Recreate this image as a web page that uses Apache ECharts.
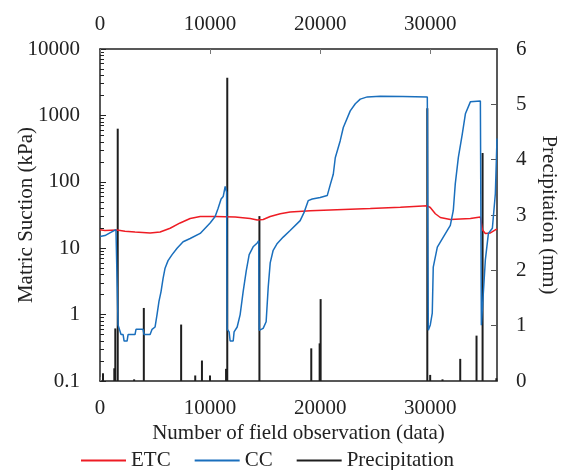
<!DOCTYPE html>
<html>
<head>
<meta charset="utf-8">
<script src="https://cdn.jsdelivr.net/npm/echarts@6/dist/echarts.min.js"></script>
<style>
  html, body { margin: 0; padding: 0; background: #fff; }
  #chart { width: 561px; height: 470px; }
</style>
</head>
<body>
<div id="chart"></div>
<script>
// observation index / matric suction (kPa)
var ccIdx = [0, 450, 900, 1450, 1590, 1640, 1820, 1910, 2100, 2190, 2460, 2550, 3180, 3270, 3910, 4000,
  4550, 4730, 5000, 5180, 5360, 5540, 5730, 5910, 6180, 6550, 7000, 7550, 8190, 9100, 9550, 10000,
  10460, 10730, 11000, 11190, 11370, 11500, 11550, 11730, 11820, 12100, 12180, 12460, 12730, 13000,
  13280, 13550, 13910, 14280, 14420, 14460, 14820, 15090, 15280, 15460, 15730, 16100, 16640, 17270,
  18180, 18550, 18910, 19280, 20000, 20640, 20910, 21190, 21370, 21820, 22100, 22730, 23190, 23640,
  24280, 25460, 27500, 29730, 29820, 30000, 30180, 30270, 30640, 31180, 31820, 32090, 32270, 32550,
  32910, 33190, 33640, 34550, 34640, 34820, 35000, 35280, 35640, 35910, 36060];
var ccVal = [15, 15.5, 17, 19, 19.5, 0.7, 0.68, 0.5, 0.5, 0.4, 0.4, 0.5, 0.5, 0.6, 0.6, 0.5,
  0.5, 0.6, 0.65, 1.0, 1.6, 2.2, 3.5, 5, 6.5, 8, 10, 12.5, 14, 16.7, 20, 24,
  30, 40, 55, 60, 85, 70, 0.6, 0.55, 0.4, 0.4, 0.55, 0.65, 1.0, 2.2,
  4.5, 8, 10.5, 12, 13, 0.58, 0.62, 0.78, 2.6, 6, 9.3, 11.8, 14.7, 18.5,
  26, 35, 52, 55, 58, 62, 90, 130, 230, 416, 657, 1170, 1500, 1760,
  1900, 1950, 1930, 1900, 0.58, 0.7, 1.05, 5.2, 10.4, 14.7, 22, 37, 93, 233,
  526, 1057, 1600, 1650, 0.69, 0.69, 6.6, 16.7, 20, 66, 450];

var etcIdx = [0, 450, 1540, 2270, 3180, 4550, 5460, 6370, 7280, 8190, 9100, 10460, 12280, 13640,
  14280, 14820, 15460, 16370, 17270, 19100, 20910, 24550, 27280, 29730, 30000, 30460, 30910,
  31820, 33640, 34550, 34730, 35000, 35460, 36060];
var etcVal = [19, 18.5, 18.8, 18, 17.5, 17, 17.5, 20, 24, 28, 30, 30, 29.5, 28,
  26.5, 27, 30, 33, 35, 36.5, 37.5, 39.5, 41.5, 43.5, 41, 33, 29,
  27, 28, 29.5, 19, 16.7, 17, 19.5];

// precipitation (mm)
var rainIdx = [270, 1300, 1390, 1610, 3100, 3980, 7370, 8650, 9260, 9990, 11450, 11560, 14480,
  19190, 19950, 20040, 29730, 29990, 31110, 32720, 34200, 34750, 36000];
var rainVal = [0.14, 0.23, 0.95, 4.56, 0.03, 1.32, 1.02, 0.1, 0.37, 0.1, 0.22, 5.48, 2.98,
  0.59, 0.68, 1.48, 4.93, 0.11, 0.03, 0.4, 0.82, 4.12, 0.05];

var logLabels = [0.1, 1, 10, 100, 1000, 10000];
var minorTicks = [];
logLabels.slice(0, 5).forEach(function (d, i) {
  for (var k = 2; k <= 9; k++) minorTicks.push(Math.log10(k) + i - 1);
});

function zip(a, b) {
  return a.map(function (v, i) { return [v, b[i]]; });
}

var FONT = 'Liberation Serif';
var INK = '#222';
var chart = echarts.init(document.getElementById('chart'), null, { renderer: 'canvas' });

var plain = function (v) { return String(v); };

var options = {
  backgroundColor: '#fff',
  animation: false,
  textStyle: { fontFamily: FONT },
  grid: { left: 100, right: 64, top: 49, bottom: 89, containLabel: false, outerBoundsMode: 'none' },
  legend: {
    data: ['ETC', 'CC', 'Precipitation'],
    left: 76,
    top: 445,
    icon: 'rect',
    itemWidth: 45,
    itemHeight: 2,
    itemGap: 24,
    textStyle: { fontFamily: FONT, fontSize: 21, color: INK }
  },
  xAxis: [{
    type: 'value',
    position: 'bottom',
    min: 0,
    max: 36060,
    interval: 10000,
    name: 'Number of field observation (data)',
    nameLocation: 'middle',
    nameGap: 42,
    nameMoveOverlap: false,
    nameTextStyle: { fontFamily: FONT, fontSize: 21, color: INK },
    axisLine: { onZero: false, lineStyle: { color: INK, width: 1.5 } },
    axisTick: { inside: true, length: 4, lineStyle: { color: '#777' } },
    axisLabel: { fontFamily: FONT, fontSize: 21, color: INK, margin: 17, showMaxLabel: false, formatter: plain },
    splitLine: { show: false }
  }, {
    type: 'value',
    position: 'top',
    min: 0,
    max: 36060,
    interval: 10000,
    axisLine: { onZero: false, lineStyle: { color: INK, width: 1.5 } },
    axisTick: { inside: true, length: 5, lineStyle: { color: '#777' } },
    axisLabel: { fontFamily: FONT, fontSize: 21, color: INK, margin: 14, showMaxLabel: false, formatter: plain },
    splitLine: { show: false }
  }],
  yAxis: [{
    type: 'log',
    logBase: 10,
    min: 0.1,
    max: 10000,
    position: 'left',
    name: 'Matric Suction (kPa)',
    nameLocation: 'middle',
    nameGap: 63,
    nameMoveOverlap: false,
    nameTextStyle: { fontFamily: FONT, fontSize: 21, color: INK },
    axisLine: { onZero: false, lineStyle: { color: INK, width: 1.5 } },
    axisTick: { inside: true, length: 6, lineStyle: { color: INK } },
    axisLabel: { fontFamily: FONT, fontSize: 21, color: INK, margin: 20, formatter: plain },
    splitLine: { show: false }
  }, {
    type: 'value',
    position: 'right',
    min: 0,
    max: 6,
    interval: 1,
    name: 'Precipitation (mm)',
    nameLocation: 'middle',
    nameRotate: -90,
    nameGap: 41,
    nameMoveOverlap: false,
    nameTextStyle: { fontFamily: FONT, fontSize: 21, color: INK },
    axisLine: { onZero: false, lineStyle: { color: INK, width: 1.5 } },
    axisTick: { inside: true, length: 6, lineStyle: { color: '#555' } },
    axisLabel: { fontFamily: FONT, fontSize: 21, color: INK, margin: 19 },
    splitLine: { show: false }
  }, {
    // minor ticks of the log axis (2..9 of each decade)
    type: 'value',
    position: 'left',
    min: -1,
    max: 4,
    axisLine: { show: false, onZero: false },
    axisLabel: { show: false },
    axisTick: { inside: true, length: 4, customValues: minorTicks, lineStyle: { color: INK } },
    splitLine: { show: false }
  }],
  series: [{
    name: 'ETC',
    type: 'line',
    xAxisIndex: 0,
    yAxisIndex: 0,
    symbol: 'none',
    color: '#ee1c24',
    lineStyle: { width: 1.5 },
    data: zip(etcIdx, etcVal)
  }, {
    name: 'CC',
    type: 'line',
    xAxisIndex: 0,
    yAxisIndex: 0,
    symbol: 'none',
    color: '#1a6fbd',
    lineStyle: { width: 1.5 },
    data: zip(ccIdx, ccVal)
  }, {
    name: 'Precipitation',
    type: 'bar',
    xAxisIndex: 0,
    yAxisIndex: 1,
    barWidth: 2,
    color: '#1e1e1e',
    data: zip(rainIdx, rainVal)
  }]
};

chart.setOption(options);
</script>
</body>
</html>
